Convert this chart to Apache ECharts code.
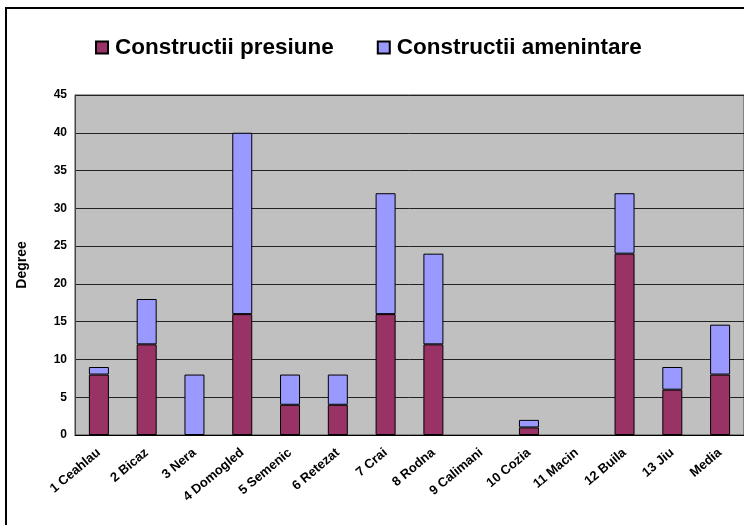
<!DOCTYPE html>
<html>
<head>
<meta charset="utf-8">
<script src="https://cdn.jsdelivr.net/npm/echarts@6/dist/echarts.min.js"></script>
<style>
  html, body { margin: 0; padding: 0; background: #fff; }
  #chart { width: 744px; height: 525px; }
</style>
</head>
<body>
<div id="chart"></div>
<script>
var categories = ['1 Ceahlau', '2 Bicaz', '3 Nera', '4 Domogled', '5 Semenic', '6 Retezat', '7 Crai',
    '8 Rodna', '9 Calimani', '10 Cozia', '11 Macin', '12 Buila', '13 Jiu', 'Media'];
var presiune = [8, 12, 0, 16, 4, 4, 16, 12, 0, 1, 0, 24, 6, 8];
var amenintare = [1, 6, 8, 24, 4, 4, 16, 12, 0, 1, 0, 8, 3, 6.6];

var chart = echarts.init(document.getElementById('chart'));

// stil comun pentru bare (fara contur la valorile zero)
function barSeries(name, data, color) {
    return {
        name: name,
        type: 'bar',
        stack: 'total',
        barWidth: 20,
        data: data.map(function(v) {
            return v === 0 ? { value: v, itemStyle: { borderWidth: 0 } } : v;
        }),
        itemStyle: { color: color, borderColor: '#000', borderWidth: 1 }
    };
}

chart.setOption({
    animation: false,
    textStyle: { fontFamily: 'Liberation Sans, Arial, sans-serif' },
    graphic: [{
        type: 'rect',
        shape: { x: 6, y: 8, width: 800, height: 600 },
        style: { fill: 'none', stroke: '#000', lineWidth: 2 },
        z: 100
    }],
    legend: {
        left: 90,
        top: 31,
        itemWidth: 12,
        itemHeight: 12,
        itemGap: 43,
        icon: 'rect',
        textStyle: { fontSize: 22.5, fontWeight: 'bold', color: '#000', padding: [0, 0, 0, 2] },
        data: ['Constructii presiune', 'Constructii amenintare']
    },
    grid: {
        left: 75,
        top: 95,
        right: 0,
        bottom: 90,
        show: true,
        backgroundColor: '#c0c0c0',
        borderColor: '#444',
        borderWidth: 1
    },
    xAxis: {
        type: 'category',
        data: categories,
        axisTick: { show: false },
        axisLine: { lineStyle: { color: '#000' } },
        axisLabel: {
            rotate: 40,
            interval: 0,
            margin: 16,
            color: '#000',
            fontSize: 13,
            fontWeight: 'bold'
        }
    },
    yAxis: {
        type: 'value',
        min: 0,
        max: 45,
        interval: 5,
        name: 'Degree',
        nameLocation: 'middle',
        nameGap: 46,
        nameTextStyle: { fontSize: 14, fontWeight: 'bold', color: '#000' },
        axisLine: { show: true, lineStyle: { color: '#444' } },
        axisTick: { show: false },
        axisLabel: { color: '#000', fontSize: 12, fontWeight: 'bold', margin: 8 },
        splitLine: { lineStyle: { color: '#222', width: 1 } }
    },
    series: [
        barSeries('Constructii presiune', presiune, '#993366'),
        barSeries('Constructii amenintare', amenintare, '#9999ff')
    ]
});
</script>
</body>
</html>
